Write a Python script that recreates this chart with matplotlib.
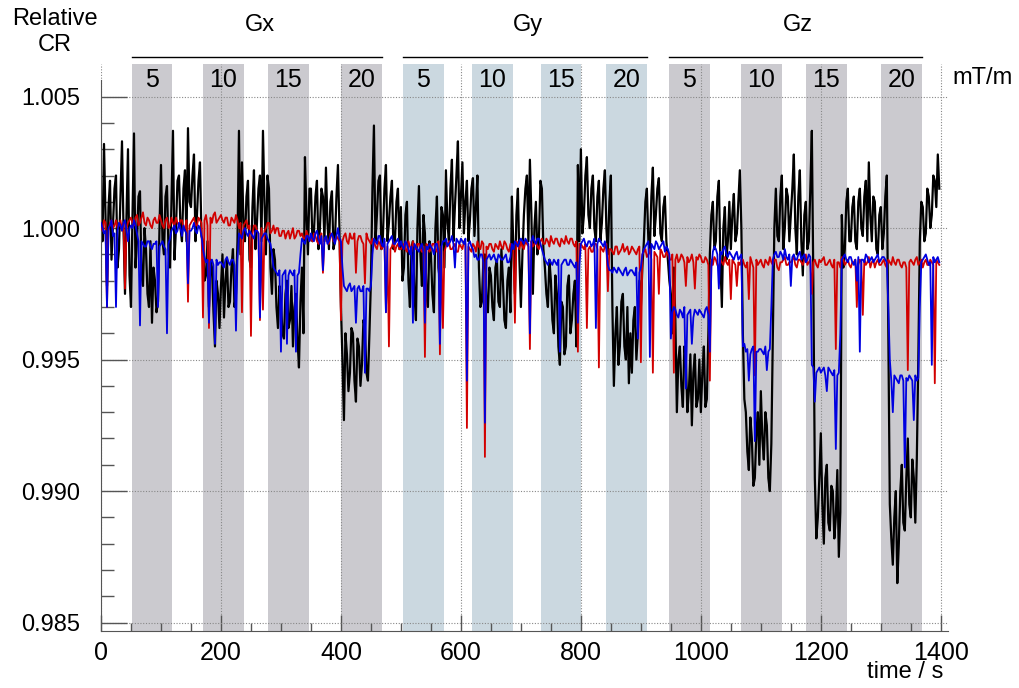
import numpy as np
import matplotlib
matplotlib.use("Agg")
import matplotlib.pyplot as plt
import matplotlib.transforms as mtransforms
from matplotlib.ticker import MultipleLocator, FixedLocator, FormatStrFormatter

plt.rcParams['font.family'] = ['Liberation Sans', 'DejaVu Sans']

# relative CR minus 1, in units of 1e-4.
# *_dev: samples at t = 0, 5, 10 ... s ; *_mid: samples at t = 2.5, 7.5 ... s
black_dev = [
    10, 32, -22, 18, 2, 20, -8, 33, -25, 30,
    -30, 36, -5, 14, -22, -8, -30, -36, -20, -28,
    24, -10, 16, -15, 37, 0, 20, -5, 22, 38,
    8, 28, 5, 25, -5, -18, -30, -15, -45, -25,
    -22, -34, -12, -28, -8, -25, 37, 25, -5, 18,
    -15, 22, 2, 20, 37, -10, 15, -25, -12, -38,
    -28, -42, -20, -35, -45, -25, -53, -15, 27, -10,
    15, -2, 18, 0, 12, 23, -8, 14, -5, 24,
    -30, -73, -48, -55, -40, -66, -45, -52, -38, -58,
    -20, 39, 5, 20, -3, 24, 2, 18, -5, 15,
    8, -15, 10, -30, -5, -35, 16, -22, -2, -30,
    -10, -32, 12, -20, 5, 22, -5, 26, 8, 33,
    12, -2, 18, 3, 19, 8, -15, -28, -10, -32,
    -18, -35, -12, -30, -20, -38, -15, 12, -25, 15,
    -30, 5, 20, 26, -25, 10, -5, 15, -15, -30,
    -20, -40, -25, -52, -30, -45, -18, -35, -20, 24,
    30, 5, 27, 0, 20, -5, 18, 2, 22, -10,
    20, -60, -30, -45, -25, -50, -59, -55, -30, -40,
    -30, -5, 15, -8, 23, 5, 19, -5, 12, -12,
    -25, -15, -70, -45, -68, -50, -62, -75, -48, -65,
    -70, -45, -65, -10, 10, -5, 18, -30, 8, -5,
    -8, 13, -2, 22, -40, -70, -92, -80, -95, -70,
    -62, -88, -75, -100, -40, 15, -5, 20, 0, 12,
    5, 28, -10, 22, -18, 10, -5, 37, -95, -110,
    -78, -120, -90, -115, -100, -110, -125, 5, -8, 15,
    -5, 12, -8, 15, -3, 18, 25, -5, 10, -10,
    8, -2, 20, -105, -128, -100, -120, -90, -115, -80,
    -110, -95, -88, -5, 8, -2, 12, 5, 18, 28,
]
black_mid = [
    -5, 5, 8, -12, 15, -15, 12, 0, 5, -18,
    5, -15, 12, -18, 0, -25, -5, -15, -32, 0,
    -5, 12, -8, 10, -12, 18, 0, 15, -5, 10,
    20, -5, 18, -3, -20, -5, -12, -32, -20, -38,
    -10, -20, -30, -15, -30, -5, -10, 2, 12, -12,
    8, -8, 15, -5, 10, 20, -15, -8, -30, -22,
    -40, -25, -38, -22, -30, -42, -28, -40, 5, 15,
    -5, 12, -8, 15, -5, 2, 10, -8, 12, 0,
    -50, -40, -62, -38, -58, -42, -60, -35, -55, -40,
    15, -5, 18, -8, 15, -5, 12, -8, 10, -8,
    -20, 5, -20, -8, -25, 0, -10, 5, -25, -5,
    -25, 0, -15, 8, -15, 2, 15, -5, 20, 0,
    25, 10, -5, 15, -3, 20, -30, -12, -28, -15,
    -30, -15, -28, -8, -35, -20, -32, -8, 5, -12,
    -10, 15, -5, 5, 0, -10, 18, -8, -25, -12,
    -35, -18, -45, -28, -48, -22, -40, -25, -45, -5,
    -2, 20, 5, 15, 0, 12, -5, 15, 0, 10,
    -30, -40, -52, -28, -45, -30, -40, -35, -50, -20,
    -15, 10, -5, 12, -3, 15, -2, 8, -5, -20,
    -40, -35, -50, -60, -45, -70, -48, -55, -68, -50,
    -55, -68, -40, 5, -8, 12, -12, 0, -12, 10,
    5, -5, 10, 0, -65, -85, -72, -98, -78, -90,
    -80, -70, -95, -82, 0, -3, 12, -8, 15, -5,
    15, 0, 12, -5, 5, -8, 15, -20, -118, -95,
    -105, -95, -112, -98, -118, -92, -108, -15, 10, -5,
    8, -5, 10, 0, 12, -5, 5, 12, -8, 5,
    -8, 12, -40, -118, -110, -135, -100, -112, -95, -105,
    -88, -112, -50, 10, -5, 15, 0, 20, 8, 15,
]
red_dev = [
    1, 3, -30, 2, 0, 3, 1, -1, -23, 2,
    4, 1, 5, 2, 6, 1, 3, 0, 4, 2,
    3, 0, 4, 1, 2, 4, 1, 3, 0, -28,
    2, 4, 1, 3, -34, 5, -38, 2, 6, 3,
    5, 2, 4, 1, 3, 5, 0, -32, 2, 0,
    -41, 1, -1, -35, -31, 0, 2, -1, -2, 0,
    -3, -1, -2, -4, 0, -3, -1, -2, -4, -3,
    -4, -2, -5, -3, -17, -4, -6, -3, -5, -4,
    -35, -3, -5, -2, -4, -17, -3, -5, -21, -4,
    -6, -5, -8, -6, -7, -32, -45, -7, -9, -6,
    -8, -6, -9, -7, -5, -8, -6, -9, -49, -7,
    -8, -6, -9, -48, -38, -7, -5, -8, -6, -9,
    -7, -5, -76, -8, -6, -9, -7, -5, -87, -8,
    -6, -9, -7, -5, -8, -6, -9, -7, -36, -6,
    -5, -8, -6, -46, -7, -5, -8, -4, -6, -5,
    -3, -6, -4, -7, -5, -3, -6, -4, -7, -47,
    -6, -8, -38, -7, -9, -6, -53, -8, -7, -24,
    -8, -10, -7, -9, -6, -8, -10, -7, -9, -8,
    -51, -9, -11, -8, -55, -10, -25, -9, -11, -10,
    -12, -55, -10, -12, -11, -22, -13, -10, -23, -12,
    -11, -13, -12, -58, -14, -12, -15, -13, -11, -14,
    -27, -13, -22, -14, -12, -15, -27, -13, -56, -14,
    -12, -15, -13, -11, -14, -12, -16, -13, -11, -14,
    -13, -11, -15, -12, -14, -10, -13, -25, -12, -15,
    -13, -11, -14, -12, -15, -46, -13, -11, -14, -12,
    -15, -13, -30, -12, -33, -14, -11, -13, -15, -12,
    -14, -12, -15, -13, -11, -14, -12, -15, -13, -54,
    -12, -14, -11, -13, -15, -12, -14, -13, -59, -13,
]
red_mid = [
    -1, 2, -1, 3, 1, 0, 3, 2, 0, 3,
    2, 4, 1, 4, 2, 4, 1, 3, 2, 5,
    1, 3, 0, 4, 1, 2, 3, 0, 3, 1,
    3, 1, 4, 2, 3, 1, 4, 5, 2, 4,
    3, 4, 1, 4, 2, 3, 2, 1, 3, 1,
    -2, 1, -2, 0, -1, 2, -2, 1, 0, -3,
    -1, -4, -1, -2, -4, -1, -3, -4, -1, -5,
    -5, -3, -6, -2, -4, -5, -2, -5, -3, -5,
    -5, -2, -6, -4, -2, -5, -3, -6, -2, -5,
    -4, -7, -5, -8, -5, -7, -8, -5, -7, -8,
    -7, -8, -5, -9, -7, -6, -8, -7, -6, -9,
    -6, -8, -5, -7, -9, -6, -8, -7, -9, -6,
    -8, -6, -7, -9, -7, -5, -8, -6, -7, -6,
    -8, -6, -8, -7, -5, -8, -6, -8, -5, -8,
    -7, -5, -7, -5, -6, -7, -5, -6, -4, -7,
    -5, -4, -6, -4, -6, -5, -4, -6, -5, -6,
    -7, -6, -8, -9, -6, -8, -7, -9, -6, -8,
    -9, -7, -10, -8, -9, -7, -9, -8, -10, -7,
    -10, -8, -10, -12, -9, -11, -8, -11, -9, -12,
    -10, -12, -13, -10, -13, -11, -12, -13, -11, -10,
    -13, -11, -14, -12, -11, -14, -12, -14, -13, -12,
    -12, -14, -13, -12, -14, -13, -11, -15, -12, -13,
    -14, -12, -14, -13, -12, -15, -13, -12, -14, -13,
    -12, -14, -12, -13, -12, -14, -12, -13, -14, -12,
    -12, -14, -13, -14, -12, -13, -15, -12, -13, -14,
    -13, -12, -14, -13, -12, -13, -15, -12, -13, -14,
    -13, -14, -12, -14, -13, -12, -14, -13, -15, -13,
    -13, -12, -14, -12, -13, -14, -12, -14, -12, -14,
]
blue_dev = [
    2, -2, -30, 1, -3, -30, 2, -1, 3, -5,
    1, 3, -2, -37, -6, -7, -5, -8, -6, -30,
    -6, -7, -40, -4, 0, -2, 2, -3, -1, -21,
    -1, 2, -2, 0, -8, -13, -36, -12, -44, -14,
    -13, -15, -11, -14, -12, -39, -2, -4, 0, -3,
    -2, -4, -1, -34, -3, -2, -5, -10, -16, -18,
    -47, -17, -44, -16, -18, -47, -17, -4, -6, -3,
    -2, -5, -1, -6, -16, -3, -5, -2, -6, 0,
    -5, -22, -24, -21, -23, -36, -22, -24, -55, -23,
    -22, -4, -6, -3, -7, -32, -5, -3, -6, -4,
    -5, -8, -6, -10, -36, -7, -9, -6, -36, -8,
    -7, -10, -6, -44, -5, -4, -6, -3, -15, -5,
    -4, -6, -58, -5, -8, -10, -12, -10, -74, -11,
    -12, -10, -13, -11, -12, -10, -13, -6, -5, -7,
    -4, -6, -5, -40, -3, -6, -4, -8, -12, -14,
    -13, -12, -14, -47, -13, -12, -14, -13, -15, -36,
    -6, -4, -7, -5, -6, -38, -4, -6, -5, -14,
    -16, -15, -17, -16, -18, -15, -17, -16, -18, -42,
    -15, -8, -6, -49, -7, -5, -8, -6, -9, -8,
    -42, -30, -33, -31, -34, -61, -32, -44, -31, -33,
    -32, -34, -30, -47, -9, -8, -23, -10, -7, -11,
    -10, -12, -9, -11, -45, -47, -58, -46, -81, -47,
    -46, -48, -54, -46, -12, -9, -11, -10, -8, -12,
    -22, -10, -12, -9, -11, -13, -10, -52, -66, -54,
    -55, -53, -62, -54, -56, -84, -55, -12, -10, -13,
    -11, -14, -20, -47, -12, -10, -13, -11, -12, -10,
    -12, -11, -13, -50, -70, -57, -59, -56, -91, -58,
    -57, -73, -58, -30, -12, -10, -14, -52, -13, -11,
]
blue_mid = [
    0, -1, 0, 3, -2, -1, 1, 2, -1, 0,
    0, 1, -5, -5, -7, -5, -7, -6, -5, -7,
    -5, -8, -6, -1, 1, -1, 0, 1, -2, -1,
    0, -1, 1, -3, -11, -12, -13, -14, -12, -13,
    -14, -12, -13, -12, -14, -12, -3, -1, -2, -1,
    -3, -1, -2, -4, -2, -4, -6, -15, -17, -16,
    -18, -16, -18, -17, -16, -18, -10, -5, -3, -5,
    -4, -2, -4, -3, -4, -6, -3, -4, -3, -4,
    -15, -23, -22, -24, -22, -23, -24, -22, -23, -24,
    -10, -5, -3, -6, -4, -6, -4, -6, -5, -7,
    -7, -5, -8, -7, -6, -8, -7, -9, -7, -6,
    -8, -6, -9, -7, -5, -7, -5, -6, -4, -6,
    -5, -4, -6, -7, -11, -12, -10, -13, -12, -10,
    -11, -12, -10, -12, -11, -13, -11, -8, -6, -5,
    -5, -4, -6, -5, -5, -4, -6, -10, -13, -12,
    -14, -13, -12, -14, -12, -14, -12, -14, -13, -14,
    -5, -6, -5, -7, -4, -6, -5, -7, -8, -16,
    -17, -16, -15, -17, -16, -18, -16, -17, -15, -17,
    -10, -7, -5, -6, -8, -6, -7, -5, -7, -10,
    -32, -31, -34, -32, -30, -33, -31, -34, -32, -31,
    -33, -31, -33, -15, -7, -10, -9, -8, -10, -9,
    -11, -10, -12, -10, -44, -46, -48, -45, -47, -46,
    -47, -45, -47, -30, -10, -11, -9, -12, -11, -10,
    -11, -12, -10, -12, -10, -12, -11, -53, -55, -53,
    -54, -56, -53, -55, -54, -56, -40, -11, -12, -11,
    -13, -12, -11, -12, -13, -11, -12, -13, -11, -13,
    -11, -12, -30, -58, -56, -58, -56, -58, -57, -56,
    -58, -56, -57, -13, -11, -12, -13, -11, -12, -13,
]
sample_step = 2.5  # s, after interleaving *_dev and *_mid

# gradient blocks
band_start = [51, 170, 278, 400, 503, 618, 733, 842, 947, 1067, 1175, 1300]
band_width = 68
band_labels = ['5', '10', '15', '20'] * 3
groups = ['Gx', 'Gy', 'Gz']
group_colors = ['#cbcacf', '#cbd8e0', '#cbcacf']


def to_cr(main, mid):
    vals = np.column_stack([main, mid]).ravel()
    return 1 + vals * 1e-4


black = to_cr(black_dev, black_mid)
red = to_cr(red_dev, red_mid)
blue = to_cr(blue_dev, blue_mid)
t = np.arange(len(black)) * sample_step

W, H = 1020, 688
fig = plt.figure(figsize=(W / 100, H / 100), dpi=100)
ax = fig.add_axes([101 / W, 57 / H, 847 / W, 567 / H])
ax.set_xlim(0, 1412)
ax.set_ylim(0.98468, 1.00624)

for i, s in enumerate(band_start):
    ax.axvspan(s, s + band_width, color=group_colors[i // 4], lw=0, zorder=0.2)

trans = mtransforms.blended_transform_factory(ax.transData, ax.transAxes)
for s, lab in zip(band_start, band_labels):
    ax.text(s + band_width / 2, 0.972, lab, transform=trans, ha='center',
            va='center', fontsize=18, zorder=5)

for g, name in enumerate(groups):
    x0 = band_start[4 * g]
    x1 = band_start[4 * g + 3] + band_width
    ax.plot([x0, x1], [1.0123, 1.0123], transform=trans, color='black',
            lw=1, clip_on=False)
    ax.text((x0 + x1) / 2 + 5, 1.0688, name, transform=trans, ha='center',
            va='center', fontsize=17)

ax.plot(t, black, color='black', lw=1.6, zorder=2)
ax.plot(t, red, color='#d20000', lw=1.3, zorder=3)
ax.plot(t, blue, color='#0000e0', lw=1.3, zorder=4)

ax.set_axisbelow(True)
ax.grid(True, which='major', color='#888888', ls=(0, (1, 1.5)), lw=0.8)

ax.xaxis.set_major_locator(MultipleLocator(200))
ax.xaxis.set_minor_locator(MultipleLocator(50))
ax.yaxis.set_major_locator(FixedLocator([0.985, 0.990, 0.995, 1.000, 1.005]))
ax.yaxis.set_minor_locator(FixedLocator([0.985 + 0.001 * k for k in range(21)]))
ax.yaxis.set_major_formatter(FormatStrFormatter('%.3f'))

ax.tick_params(axis='y', which='major', direction='in', length=19, width=1,
               color='#555555', labelsize=17, pad=15)
ax.tick_params(axis='y', which='minor', direction='in', length=9.5, width=1,
               color='#555555')
ax.tick_params(axis='x', which='major', direction='in', length=11.5, width=1,
               color='#555555', labelsize=18, pad=7)
ax.tick_params(axis='x', which='minor', direction='in', length=6, width=1,
               color='#555555')

for side in ['top', 'right']:
    ax.spines[side].set_visible(False)
ax.spines['left'].set_bounds(0.98468, 1.00563)
ax.spines['left'].set_color('#555555')
ax.spines['bottom'].set_color('#555555')

fig.text(55 / W, 1 - 32 / H, 'Relative\nCR', ha='center', va='center',
         fontsize=17, linespacing=1.2)
fig.text(983 / W, 1 - 78 / H, 'mT/m', ha='center', va='center', fontsize=17)
fig.text(905 / W, 1 - 672 / H, 'time / s', ha='center', va='center', fontsize=17)

fig.savefig('out.png', dpi=100)
